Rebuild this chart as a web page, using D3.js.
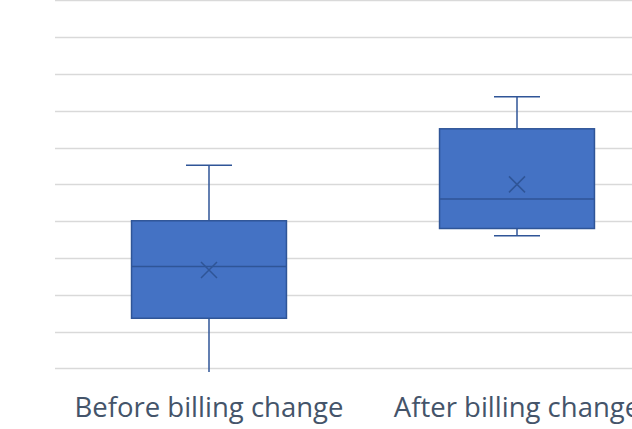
<!DOCTYPE html>
<html>
<head>
<meta charset="utf-8">
<script src="https://cdn.jsdelivr.net/npm/d3@7"></script>
<style>
  body { margin: 0; background: #fff; }
  svg { display: block; }
</style>
</head>
<body>
<svg id="chart" width="632" height="429"></svg>
<script>
const categories = ["Before billing change", "After billing change"];
const mins = [-1, 3.6];
const q1s = [1.36, 3.8];
const medians = [2.77, 4.6];
const q3s = [4.01, 6.51];
const maxs = [5.52, 7.38];
const means = [2.67, 5.0];
const gridTicks = [0, 1, 2, 3, 4, 5, 6, 7, 8, 9, 10];

const width = 632,
  height = 429;

const svg = d3.select("#chart");

const x = d3.scaleBand().domain(categories).range([55, 671]);
const y = d3.scaleLinear().domain([0, 10]).range([368.3, 0.4]);

const boxW = x.bandwidth() * 0.503;
const capW = 46;

const data = categories.map((c, i) => ({
  name: c,
  min: mins[i],
  q1: q1s[i],
  median: medians[i],
  q3: q3s[i],
  max: maxs[i],
  mean: means[i],
}));

// gridlines
svg
  .append("g")
  .selectAll("line")
  .data(gridTicks)
  .join("line")
  .attr("x1", 55)
  .attr("x2", width)
  .attr("y1", (d) => Math.round(y(d)) + 0.5)
  .attr("y2", (d) => Math.round(y(d)) + 0.5)
  .attr("stroke", "#d9d9d9")
  .attr("stroke-width", 1.3);

svg
  .append("clipPath")
  .attr("id", "plot")
  .append("rect")
  .attr("x", 0)
  .attr("y", 0)
  .attr("width", width)
  .attr("height", 372);

const boxes = svg
  .append("g")
  .attr("clip-path", "url(#plot)")
  .selectAll("g")
  .data(data)
  .join("g")
  .attr("transform", (d) => `translate(${x(d.name) + x.bandwidth() / 2},0)`);

const stroke = "#2f5597";

// whiskers
boxes
  .append("line")
  .attr("x1", 0)
  .attr("x2", 0)
  .attr("y1", (d) => y(d.max))
  .attr("y2", (d) => y(d.q3))
  .attr("stroke", stroke)
  .attr("stroke-width", 1.5);
boxes
  .append("line")
  .attr("x1", 0)
  .attr("x2", 0)
  .attr("y1", (d) => y(d.q1))
  .attr("y2", (d) => y(d.min))
  .attr("stroke", stroke)
  .attr("stroke-width", 1.5);
boxes
  .append("line")
  .attr("x1", -capW / 2)
  .attr("x2", capW / 2)
  .attr("y1", (d) => y(d.max))
  .attr("y2", (d) => y(d.max))
  .attr("stroke", stroke)
  .attr("stroke-width", 1.5);
boxes
  .append("line")
  .attr("x1", -capW / 2)
  .attr("x2", capW / 2)
  .attr("y1", (d) => y(d.min))
  .attr("y2", (d) => y(d.min))
  .attr("stroke", stroke)
  .attr("stroke-width", 1.5);

// box
boxes
  .append("rect")
  .attr("x", -boxW / 2)
  .attr("width", boxW)
  .attr("y", (d) => y(d.q3))
  .attr("height", (d) => y(d.q1) - y(d.q3))
  .attr("fill", "#4472c4")
  .attr("stroke", stroke)
  .attr("stroke-width", 1.5);

// median
boxes
  .append("line")
  .attr("x1", -boxW / 2)
  .attr("x2", boxW / 2)
  .attr("y1", (d) => y(d.median))
  .attr("y2", (d) => y(d.median))
  .attr("stroke", stroke)
  .attr("stroke-width", 1.5);

// mean marker
boxes
  .append("path")
  .attr("transform", (d) => `translate(0,${y(d.mean)})`)
  .attr("d", "M-8,-8L8,8M-8,8L8,-8")
  .attr("stroke", stroke)
  .attr("stroke-width", 1.5)
  .attr("fill", "none");

// category labels
svg
  .append("g")
  .selectAll("text")
  .data(categories)
  .join("text")
  .attr("x", (d) => x(d) + x.bandwidth() / 2)
  .attr("y", 417)
  .attr("text-anchor", "middle")
  .attr("fill", "#44546a")
  .style("font-family", "'Open Sans', sans-serif")
  .style("font-size", "27.5px")
  .text((d) => d);
</script>
</body>
</html>
